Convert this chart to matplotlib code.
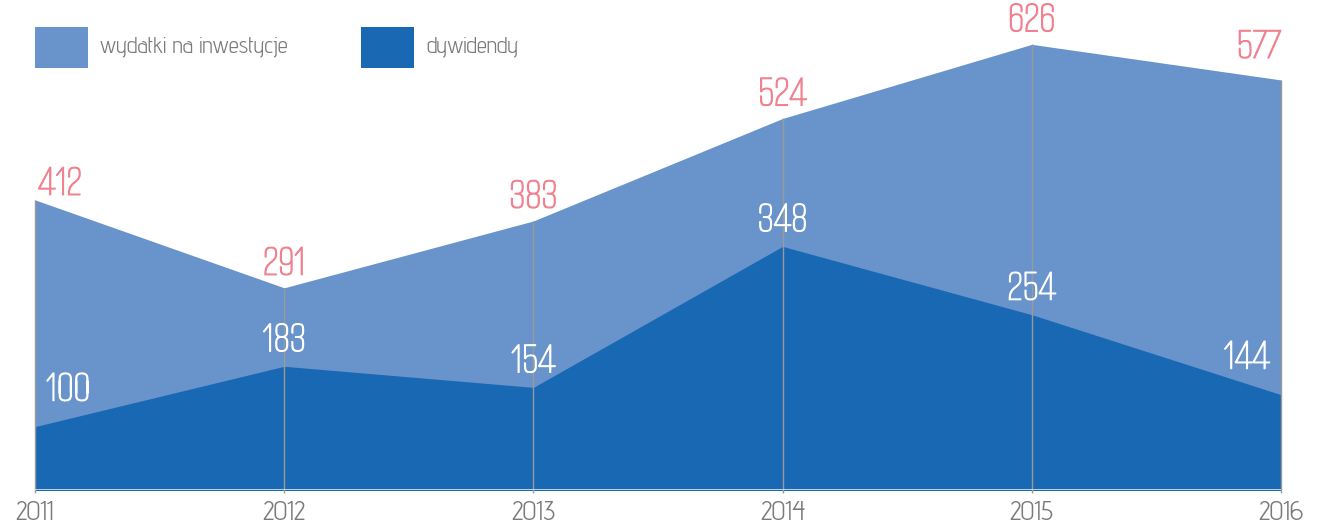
import matplotlib
matplotlib.use("Agg")
import matplotlib.pyplot as plt
from matplotlib.patches import Rectangle
import matplotlib.patheffects as pe

# data
years = [2011, 2012, 2013, 2014, 2015, 2016]
investments = [412, 291, 383, 524, 626, 577]
dividends = [100, 183, 154, 348, 254, 144]
series_names = ["wydatki na inwestycje", "dywidendy"]

light = "#6893cb"
dark = "#1868b4"
pink = "#f0828f"
grey_text = "#7a7a7a"
num_font = ["Smooch Sans", "DejaVu Sans"]
txt_font = ["Advent Pro", "DejaVu Sans"]

W, H = 1323, 524
fig = plt.figure(figsize=(W / 100, H / 100), dpi=100)
ax = fig.add_axes([35 / W, 34 / H, (1281 - 35) / W, 490 / H])

ax.fill_between(years, 0, investments, color=light, lw=0, zorder=1)
ax.fill_between(years, 0, dividends, color=dark, lw=0, zorder=2)
ax.vlines(years, 8.5, investments, color="#9a9a9a", lw=1, zorder=3, clip_on=False)
ax.axhline(12.8, color="#dfe5ec", lw=1.2, zorder=4)

ax.set_xlim(2011, 2016)
ax.set_ylim(12.8, 687)
for s in ax.spines.values():
    s.set_visible(False)
ax.set_yticks([])
ax.set_xticks(years)
ax.set_xticklabels([str(y) for y in years])
ax.tick_params(axis="x", length=0, pad=8, labelsize=20, labelcolor=grey_text)
for t in ax.get_xticklabels():
    t.set_family(txt_font)
    t.set_fontweight(300)

last = len(years) - 1
for i, (yr, v) in enumerate(zip(years, investments)):
    ha = "left" if i == 0 else ("right" if i == last else "center")
    dx = 3 if i == 0 else 0
    dy = -2 if i == 0 else (15 if i == last else 6)
    ax.annotate(str(v), (yr, v), xytext=(dx, dy), textcoords="offset pixels",
                ha=ha, va="bottom", color=pink, fontsize=32, family=num_font,
                zorder=5, annotation_clip=False,
                path_effects=[pe.withStroke(linewidth=0.9, foreground=pink)])

for i, (yr, v) in enumerate(zip(years, dividends)):
    ha = "left" if i == 0 else ("right" if i == last else "center")
    dx = 11 if i == 0 else (-11 if i == last else 0)
    dy = 19 if i in (0, last) else 8
    ax.annotate(str(v), (yr, v), xytext=(dx, dy), textcoords="offset pixels",
                ha=ha, va="bottom", color="white", fontsize=32, family=num_font,
                zorder=5, annotation_clip=False,
                path_effects=[pe.withStroke(linewidth=0.9, foreground="white")])

# legend
for x0, col, name in [(35, light, series_names[0]), (361, dark, series_names[1])]:
    fig.add_artist(Rectangle((x0 / W, 1 - 68 / H), 53 / W, 41 / H,
                             transform=fig.transFigure, color=col, lw=0))
    fig.text((x0 + 65) / W, 1 - 47 / H, name, ha="left", va="center",
             color=grey_text, fontsize=16.5, family=txt_font, fontweight=300)

fig.savefig("out.png", dpi=100)
